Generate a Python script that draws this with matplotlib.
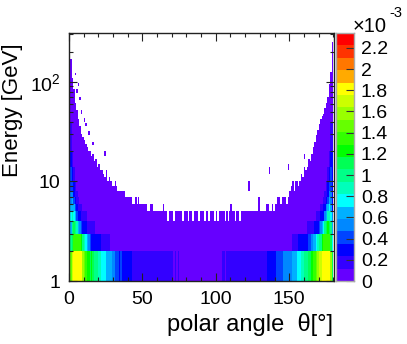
import numpy as np
import matplotlib
matplotlib.use('Agg')
import matplotlib.pyplot as plt
from matplotlib.colors import ListedColormap, BoundaryNorm

plt.rcParams['font.family'] = ['Liberation Sans', 'DejaVu Sans']
plt.rcParams['mathtext.fontset'] = 'custom'
plt.rcParams['mathtext.rm'] = 'Liberation Sans'

# highest filled energy (GeV) in each 1 degree bin
top_left = [260, 170, 110, 85, 62, 52, 42, 36, 30, 28, 26, 24, 22, 20, 20, 18, 19, 16, 17, 14,
            15, 13, 13, 12, 11, 13, 10, 11, 10, 9, 9, 10, 9, 8, 8, 8, 8, 8, 7, 7,
            7, 7, 7, 6, 6, 7, 6, 7, 6, 6, 6, 6, 6, 5, 5, 6, 6, 5, 5, 5,
            5, 5, 5, 5, 6, 5, 5, 4, 5, 5, 5, 4, 5, 5, 5, 5, 5, 4, 5, 5,
            5, 4, 5, 5, 4, 5, 5, 5, 4, 5]
top_right = [5, 5, 4, 5, 5, 4, 5, 5, 5, 4, 5, 4, 5, 5, 5, 5, 4, 5, 4, 5,
             6, 5, 5, 4, 5, 5, 4, 5, 5, 5, 5, 5, 5, 5, 5, 5, 5, 5, 5, 7,
             5, 5, 5, 5, 6, 6, 5, 5, 6, 5, 6, 6, 7, 7, 6, 7, 7, 7, 6, 7,
             8, 9, 10, 8, 10, 10, 9, 10, 12, 11, 14, 13, 14, 17, 16, 19, 22, 25, 29, 33,
             38, 42, 45, 48, 55, 62, 70, 88, 125, 250]
top_energy = top_left + top_right

# isolated entries above the envelope: theta bin, low E, high E
stray_theta = [4, 5, 6, 7, 8, 10, 11, 13, 16, 24, 122, 136, 149, 160, 174, 175, 176, 177]
stray_low = [118, 78, 92, 66, 48, 40, 36, 29, 23, 18, 8, 12, 13, 17, 40, 44, 58, 88]
stray_high = [124, 84, 98, 70, 52, 43, 39, 32, 25, 20, 10, 14, 15, 19, 43, 48, 62, 96]

# 1-2 GeV row, in units of 1e-3
row_1 = [1.00, 1.50, 1.70, 1.80, 1.85, 1.85, 1.80, 1.85, 1.80, 1.60,
         1.45, 1.30, 1.25, 1.20, 1.15, 1.25, 1.10, 1.05, 1.00, 0.95,
         0.90, 0.85, 0.80, 0.80, 0.75, 0.65, 0.65, 0.60, 0.60, 0.50,
         0.50, 0.45, 0.45, 0.40, 0.35, 0.40, 0.35, 0.32, 0.30, 0.30,
         0.28, 0.26, 0.25, 0.20, 0.22, 0.20, 0.18, 0.20, 0.18, 0.20,
         0.18, 0.20, 0.18, 0.16, 0.18, 0.18, 0.16, 0.18, 0.16, 0.18,
         0.16, 0.14, 0.18, 0.14, 0.16, 0.14, 0.13, 0.14, 0.12, 0.14,
         0.12, 0.11, 0.13, 0.11, 0.12, 0.10, 0.10, 0.09, 0.10, 0.09,
         0.09, 0.08, 0.10, 0.09, 0.08, 0.09, 0.10, 0.09, 0.08, 0.09,
         0.08, 0.09, 0.10, 0.08, 0.09, 0.09, 0.10, 0.09, 0.08, 0.10,
         0.09, 0.11, 0.10, 0.11, 0.12, 0.13, 0.11, 0.13, 0.12, 0.14,
         0.13, 0.15, 0.13, 0.15, 0.14, 0.16, 0.15, 0.17, 0.15, 0.16,
         0.18, 0.16, 0.18, 0.17, 0.18, 0.19, 0.18, 0.20, 0.18, 0.20,
         0.20, 0.22, 0.20, 0.22, 0.22, 0.24, 0.24, 0.28, 0.30, 0.32,
         0.35, 0.38, 0.40, 0.42, 0.45, 0.45, 0.48, 0.50, 0.52, 0.55,
         0.55, 0.58, 0.62, 0.65, 0.70, 0.75, 0.78, 0.80, 0.85, 0.90,
         0.95, 1.00, 1.05, 1.10, 1.15, 1.25, 1.30, 1.35, 1.45, 1.55,
         1.65, 1.75, 1.80, 1.85, 1.85, 1.85, 1.80, 1.80, 1.60, 1.10]

# 2-3 GeV and 3-4 GeV rows, outer bins on each side
row_2_left = [0.60, 1.00, 1.15, 1.30, 1.40, 1.40, 1.40, 1.35, 1.25, 1.05, 0.90, 0.80, 0.70, 0.55,
              0.40, 0.35, 0.30, 0.30, 0.28, 0.28, 0.26, 0.24, 0.22, 0.20, 0.20, 0.18, 0.18, 0.17]
row_2_right = [0.80, 1.10, 1.35, 1.40, 1.40, 1.35, 1.30, 1.20, 1.05, 0.95, 0.85, 0.75, 0.65, 0.60,
               0.50, 0.45, 0.40, 0.35, 0.32, 0.30, 0.30, 0.28, 0.26, 0.24, 0.22, 0.20, 0.18, 0.17]
row_3_left = [0.45, 0.70, 1.00, 1.10, 1.00, 0.90, 0.70, 0.55, 0.45, 0.35, 0.30, 0.30,
              0.20, 0.20, 0.20, 0.18, 0.18, 0.17]
row_3_right = [0.60, 0.95, 1.15, 1.25, 1.10, 0.95, 0.80, 0.65, 0.50, 0.40, 0.32, 0.30,
               0.28, 0.22, 0.20, 0.18, 0.18, 0.17]

# higher energy bands, outer bins on each side
band_low = [4, 5, 6, 7, 8, 10, 14, 20]
band_high = [5, 6, 7, 8, 10, 14, 20, 40]
band_left = [[0.50, 0.75, 0.85, 0.80, 0.65, 0.45, 0.30, 0.25, 0.20, 0.20, 0.20, 0.18],
             [0.35, 0.60, 0.70, 0.60, 0.45, 0.30, 0.20, 0.20, 0.18],
             [0.30, 0.55, 0.60, 0.45, 0.30, 0.20, 0.18],
             [0.30, 0.50, 0.50, 0.35, 0.22, 0.18],
             [0.30, 0.45, 0.40, 0.25, 0.18],
             [0.30, 0.40, 0.30, 0.18],
             [0.25, 0.30, 0.20],
             [0.20, 0.18]]
band_right = [[0.50, 0.75, 0.90, 0.85, 0.70, 0.50, 0.35, 0.30, 0.25, 0.22, 0.20, 0.20],
              [0.35, 0.60, 0.75, 0.65, 0.50, 0.32, 0.25, 0.20, 0.18],
              [0.30, 0.55, 0.60, 0.45, 0.30, 0.22, 0.18],
              [0.30, 0.50, 0.50, 0.35, 0.22, 0.18],
              [0.30, 0.45, 0.40, 0.25, 0.18],
              [0.30, 0.40, 0.30, 0.18],
              [0.25, 0.30, 0.20],
              [0.20, 0.18]]

background = 0.06
z_max = 2.34
palette = ['#6600ff', '#3300ff', '#0000ff', '#0044ff', '#0088ff', '#00b0ff', '#00ffff',
           '#00ffbb', '#00ff88', '#00ff55', '#00ff00', '#33ff00', '#66ff00', '#99ff00',
           '#ccff00', '#ffff00', '#ffaa00', '#ff7700', '#ff3300', '#ff0000']
bar_ticks = [0, 0.2, 0.4, 0.6, 0.8, 1, 1.2, 1.4, 1.6, 1.8, 2, 2.2]

theta_edges = np.arange(0, 181)
energy_edges = np.arange(1, 321)
z = np.full((len(energy_edges) - 1, 180), np.nan)

for i in range(180):
    z[:top_energy[i] - 1, i] = background
for i in range(180):
    z[0, i] = row_1[i]
for i, v in enumerate(row_2_left):
    z[1, i] = v
for i, v in enumerate(row_2_right):
    z[1, 179 - i] = v
for i, v in enumerate(row_3_left):
    z[2, i] = v
for i, v in enumerate(row_3_right):
    z[2, 179 - i] = v
for b in range(len(band_low)):
    for j in range(band_low[b] - 1, band_high[b] - 1):
        for i, v in enumerate(band_left[b]):
            if not np.isnan(z[j, i]):
                z[j, i] = v
        for i, v in enumerate(band_right[b]):
            if not np.isnan(z[j, 179 - i]):
                z[j, 179 - i] = v
for k in range(len(stray_theta)):
    z[stray_low[k] - 1:stray_high[k] - 1, stray_theta[k]] = background

levels = np.linspace(0, z_max, len(palette) + 1)
cmap = ListedColormap(palette)
cmap.set_bad('white')
norm = BoundaryNorm(levels, len(palette))

fig = plt.figure(figsize=(4.07, 3.44), dpi=100)
W, H = 407.0, 344.0
ax = fig.add_axes([69 / W, (H - 281) / H, 265 / W, 248 / H])
# antialiased on: leaves the pale seams between bins that the original has
ax.pcolormesh(theta_edges, energy_edges, np.ma.masked_invalid(z), cmap=cmap, norm=norm,
              antialiased=True, linewidth=0)
ax.set_yscale('log')
ax.set_xlim(0, 180.5)
ax.set_ylim(1, 310)

ax.set_xticks([0, 50, 100, 150])
ax.set_xticks(np.arange(0, 181, 10), minor=True)
ax.set_yticks([1, 10, 100])
ax.set_yticklabels(['1', '10', r'$\mathregular{10^{2}}$'])
ax.tick_params(which='major', direction='in', top=True, right=True, length=5.5, width=0.8,
               labelsize=14, color='#222222', pad=6)
ax.tick_params(which='minor', direction='in', top=True, right=True, length=3, width=0.8,
               color='#222222')
ax.tick_params(axis='x', which='major', pad=7)
for s in ax.spines.values():
    s.set_linewidth(1.0)
    s.set_color('#222222')

fig.text(167 / W, (H - 325) / H, 'polar angle  \u03b8[\u00b0]', fontsize=17, va='center', ha='left')
fig.text(13 / W, (H - 110) / H, 'Energy [GeV]', fontsize=16, rotation=90, va='center', ha='center')

cax = fig.add_axes([335.5 / W, (H - 281) / H, 18.5 / W, 248 / H])
cax.pcolormesh([0, 1], levels, (levels[:-1] + 0.01).reshape(-1, 1), cmap=cmap, norm=norm,
               antialiased=False, linewidth=0)
cax.set_xlim(0, 1)
cax.set_ylim(0, z_max)
cax.set_xticks([])
cax.yaxis.tick_right()
cax.set_yticks(bar_ticks)
cax.set_yticklabels([str(t) for t in bar_ticks])
cax.tick_params(axis='y', direction='in', length=6, width=0.8, labelsize=14, pad=5, color='#333333')
for s in cax.spines.values():
    s.set_linewidth(1.0)
    s.set_color('#aaaaaa')

fig.text(353 / W, (H - 27) / H, '\u00d710', fontsize=14.5, va='center', ha='left')
fig.text(389 / W, (H - 13) / H, '-3', fontsize=10.5, va='center', ha='left')

fig.savefig('out.png', dpi=100)
